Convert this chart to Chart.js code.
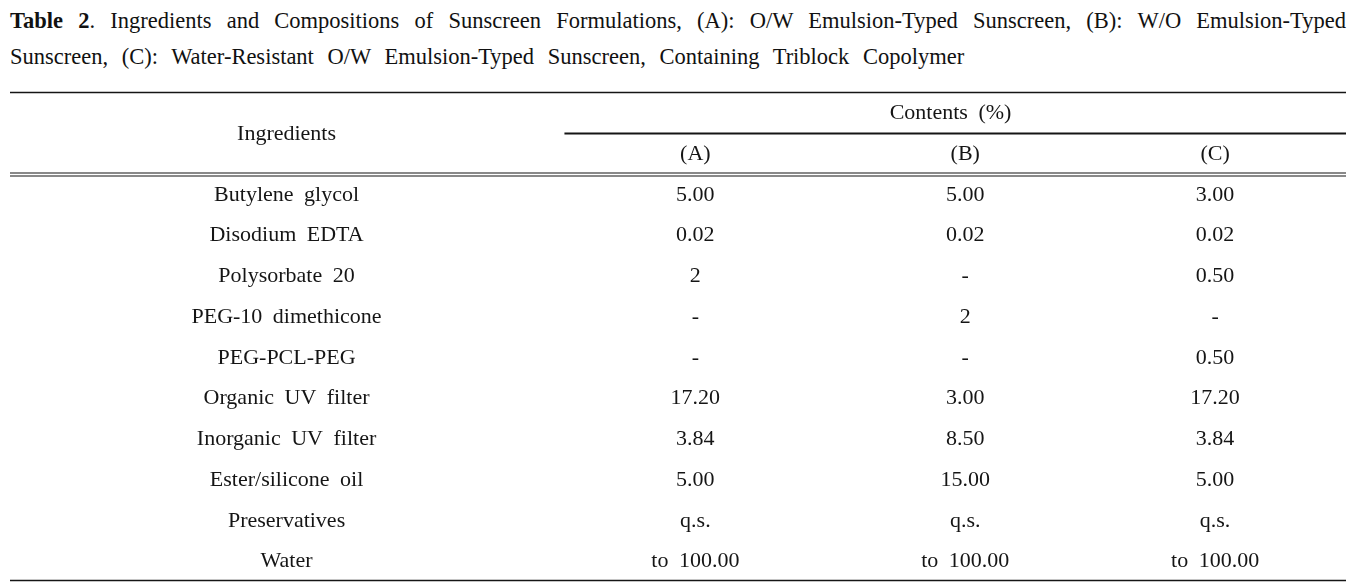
<!DOCTYPE html>
<html>
<head>
<meta charset="utf-8">
<script src="https://cdn.jsdelivr.net/npm/chart.js@4/dist/chart.umd.min.js"></script>
<style>
  html, body { margin: 0; padding: 0; background: #fff; }
  body { width: 1365px; height: 585px; position: relative; overflow: hidden; }
  #title { position: absolute; left: 10px; top: 3px; width: 1336px;
           font-family: "Liberation Serif", "Times New Roman", serif; font-size: 22.5px;
           line-height: 36px; color: #111; }
  #title .l1 { text-align: justify; text-align-last: justify; white-space: nowrap; word-spacing: 0; }
  #title .l2 { word-spacing: 8px; }
  #wrap { position: absolute; left: 0; top: 0; width: 1365px; height: 585px; }
</style>
</head>
<body>
<div id="title">
  <div class="l1"><b>Table 2</b>. Ingredients and Compositions of Sunscreen Formulations, (A): O/W Emulsion-Typed Sunscreen, (B): W/O Emulsion-Typed</div>
  <div class="l2">Sunscreen, (C): Water-Resistant O/W Emulsion-Typed Sunscreen, Containing Triblock Copolymer</div>
</div>
<div id="wrap"><canvas id="c" width="1365" height="585"></canvas></div>
<script>
// ---- data ----
const headerTitle = 'Ingredients';
const groupTitle = 'Contents (%)';
const columns = ['(A)', '(B)', '(C)'];
const ingredients = ['Butylene glycol', 'Disodium EDTA', 'Polysorbate 20', 'PEG-10 dimethicone',
  'PEG-PCL-PEG', 'Organic UV filter', 'Inorganic UV filter', 'Ester/silicone oil', 'Preservatives', 'Water'];
const valuesA = ['5.00', '0.02', '2', '-', '-', '17.20', '3.84', '5.00', 'q.s.', 'to 100.00'];
const valuesB = ['5.00', '0.02', '-', '2', '-', '3.00', '8.50', '15.00', 'q.s.', 'to 100.00'];
const valuesC = ['3.00', '0.02', '0.50', '-', '0.50', '17.20', '3.84', '5.00', 'q.s.', 'to 100.00'];

// ---- layout (fractions of table width) ----
const headerRows = ['hdr-group', 'hdr-cols'];
const rowKeys = headerRows.concat(ingredients);
const colPos = { name: 0.207, A: 0.513, B: 0.715, C: 0.902, group: 0.704, groupLineStart: 0.415 };
const FONT = '22px "Liberation Serif", "Times New Roman", serif';
const INK = '#151515';

function pts(xp, arr) { return arr.map((v, i) => ({ x: xp, y: ingredients[i], label: v })); }

const datasets = [
  { label: 'name', data: pts(colPos.name, ingredients) },
  { label: columns[0], data: pts(colPos.A, valuesA) },
  { label: columns[1], data: pts(colPos.B, valuesB) },
  { label: columns[2], data: pts(colPos.C, valuesC) },
  { label: 'hdr', data: [
      { x: colPos.A, y: 'hdr-cols', label: columns[0] },
      { x: colPos.B, y: 'hdr-cols', label: columns[1] },
      { x: colPos.C, y: 'hdr-cols', label: columns[2] },
      { x: colPos.group, y: 'hdr-group', label: groupTitle } ] }
].map(d => Object.assign(d, { pointRadius: 0, pointHoverRadius: 0, showLine: false }));

const tablePlugin = {
  id: 'tableDraw',
  afterDatasetsDraw(chart) {
    const ctx = chart.ctx, ca = chart.chartArea;
    const xs = chart.scales.x, ys = chart.scales.y;
    ctx.save();
    ctx.font = FONT; ctx.fillStyle = INK; ctx.textAlign = 'center'; ctx.textBaseline = 'middle';
    try { ctx.wordSpacing = '5px'; } catch (e) {}
    chart.data.datasets.forEach((ds, di) => {
      const meta = chart.getDatasetMeta(di);
      meta.data.forEach((el, i) => { ctx.fillText(ds.data[i].label, el.x, el.y + 1); });
    });
    // "Ingredients" spans both header rows
    const y0 = ys.getPixelForValue(0), y1 = ys.getPixelForValue(1), y2 = ys.getPixelForValue(2);
    ctx.fillText(headerTitle, xs.getPixelForValue(colPos.name), (y0 + y1) / 2 + 1);
    // rules
    ctx.strokeStyle = INK;
    const hline = (xa, xb, y, w) => { ctx.lineWidth = w; ctx.beginPath(); ctx.moveTo(xa, y); ctx.lineTo(xb, y); ctx.stroke(); };
    hline(ca.left, ca.right, ca.top + 0.5, 1.3);
    hline(xs.getPixelForValue(colPos.groupLineStart), ca.right, Math.round((y0 + y1) / 2) + 0.5, 2);
    const m = Math.round((y1 + y2) / 2);
    hline(ca.left, ca.right, m - 1, 1.2);
    hline(ca.left, ca.right, m + 2, 1.2);
    hline(ca.left, ca.right, ca.bottom - 0.5, 1.6);
    ctx.restore();
  }
};

new Chart(document.getElementById('c'), {
  type: 'scatter',
  data: { datasets },
  options: {
    responsive: false, animation: false, events: [],
    layout: { padding: { left: 10, right: 19, top: 92, bottom: 4 } },
    plugins: { legend: { display: false }, tooltip: { enabled: false }, title: { display: false } },
    scales: {
      x: { type: 'linear', min: 0, max: 1, display: false },
      y: { type: 'category', labels: rowKeys, offset: true, display: false }
    }
  },
  plugins: [tablePlugin]
});
</script>
</body>
</html>
